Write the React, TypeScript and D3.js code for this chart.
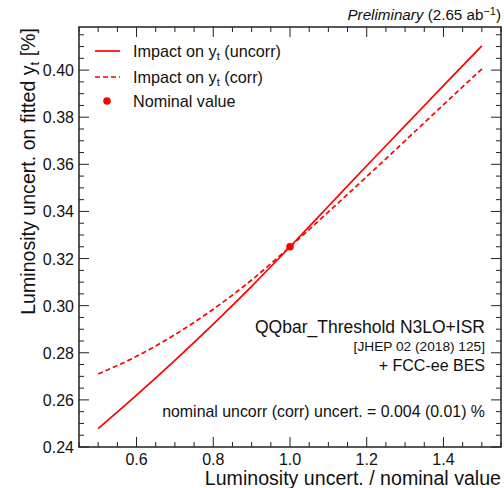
import React from "react";
import * as d3 from "d3";

const xValues = [0.5, 0.6, 0.7, 0.8, 0.9, 1.0, 1.1, 1.2, 1.3, 1.4, 1.5];
const uncorrValues = [0.2478, 0.262, 0.2768, 0.2922, 0.3082, 0.325, 0.3422, 0.3594, 0.3764, 0.3934, 0.4103];
const corrValues = [0.271, 0.2785, 0.2877, 0.2985, 0.3109, 0.325, 0.3398, 0.3548, 0.37, 0.3853, 0.4005];
const nominalPoint = { x: 1.0, y: 0.325 };
const xTicks = [0.6, 0.8, 1.0, 1.2, 1.4];
const yTicks = [0.24, 0.26, 0.28, 0.3, 0.32, 0.34, 0.36, 0.38, 0.4];

const W = 504;
const H = 488;
const L = 79, R = 501, T = 27, B = 447;
const RED = "#ff0000";
const FONT = "'Liberation Sans', Arial, Helvetica, sans-serif";

export default function App() {
  const x = d3.scaleLinear().domain([0.45, 1.55]).range([L, R]);
  const y = d3.scaleLinear().domain([0.24, 0.4183]).range([B, T]);
  const line = d3
    .line<number>()
    .x((_, i) => x(xValues[i]))
    .y((d) => y(d))
    .curve(d3.curveMonotoneX);

  const xMinor = d3.range(0.45, 1.5501, 0.05).map((v) => +v.toFixed(3));
  const yMinor = d3.range(0.24, 0.4183, 0.005).map((v) => +v.toFixed(4));

  const isMajorX = (v: number) => Math.abs(Math.round(v * 5) - v * 5) < 1e-6;
  const isMajorY = (v: number) => Math.abs(Math.round(v * 50) - v * 50) < 1e-6;

  return (
    <svg width={W} height={H} style={{ position: "absolute", left: 0, top: 0, background: "#fff" }} fontFamily={FONT}>
      <rect x={0} y={0} width={W} height={H} fill="#fff" />
      {/* ticks */}
      <g stroke="#222" strokeWidth={1}>
        {xMinor.map((v, i) => {
          const len = isMajorX(v) ? 10 : 5;
          const px = x(v);
          return (
            <g key={"xt" + i}>
              <line x1={px} x2={px} y1={B} y2={B - len} />
              <line x1={px} x2={px} y1={T} y2={T + len} />
            </g>
          );
        })}
        {yMinor.map((v, i) => {
          const len = isMajorY(v) ? 10 : 5;
          const py = y(v);
          return (
            <g key={"yt" + i}>
              <line x1={L} x2={L + len} y1={py} y2={py} />
              <line x1={R} x2={R - len} y1={py} y2={py} />
            </g>
          );
        })}
      </g>
      {/* frame */}
      <rect x={L} y={T} width={R - L} height={B - T} fill="none" stroke="#222" strokeWidth={1.5} />
      {/* tick labels */}
      <g fontSize={16} fill="#111">
        {xTicks.map((t) => (
          <text key={"xl" + t} x={x(t)} y={464.5} textAnchor="middle">
            {t.toFixed(1)}
          </text>
        ))}
        {yTicks.map((t) => (
          <text key={"yl" + t} x={74} y={y(t) + 6} textAnchor="end">
            {t.toFixed(2)}
          </text>
        ))}
      </g>
      {/* axis titles */}
      <text x={501} y={485} textAnchor="end" fontSize={19.6} fill="#111">
        Luminosity uncert. / nominal value
      </text>
      <text transform={`translate(35,${T + 1}) rotate(-90)`} textAnchor="end" fontSize={19.6} fill="#111">
        Luminosity uncert. on fitted y<tspan fontSize={13} dy={4}>t</tspan>
        <tspan dy={-4}> [%]</tspan>
      </text>
      {/* top label */}
      <text x={501} y={20} textAnchor="end" fontSize={15.2} fill="#111">
        <tspan fontStyle="italic">Preliminary</tspan> (2.65 ab
        <tspan fontSize={11} dy={-5}>−1</tspan>
        <tspan dy={5}>)</tspan>
      </text>
      {/* data */}
      <path d={line(corrValues) || ""} fill="none" stroke={RED} strokeWidth={1.7} strokeDasharray="5,3" />
      <path d={line(uncorrValues) || ""} fill="none" stroke={RED} strokeWidth={1.7} />
      <circle cx={x(nominalPoint.x)} cy={y(nominalPoint.y)} r={3.8} fill={RED} />
      {/* legend */}
      <g fontSize={16.2} fill="#111">
        <line x1={95} x2={120} y1={51} y2={51} stroke={RED} strokeWidth={1.7} />
        <text x={133} y={57}>
          Impact on y<tspan fontSize={11} dy={3}>t</tspan>
          <tspan dy={-3}> (uncorr)</tspan>
        </text>
        <line x1={95} x2={120} y1={77} y2={77} stroke={RED} strokeWidth={1.7} strokeDasharray="5,3" />
        <text x={133} y={83}>
          Impact on y<tspan fontSize={11} dy={3}>t</tspan>
          <tspan dy={-3}> (corr)</tspan>
        </text>
        <circle cx={107} cy={101} r={3.8} fill={RED} />
        <text x={133} y={106.5}>Nominal value</text>
      </g>
      {/* annotations */}
      <g fill="#111" textAnchor="end">
        <text x={485} y={333} fontSize={17.5}>QQbar_Threshold N3LO+ISR</text>
        <text x={485} y={351} fontSize={13.7}>[JHEP 02 (2018) 125]</text>
        <text x={485} y={371} fontSize={16}>+ FCC-ee BES</text>
        <text x={485} y={417} fontSize={15.9}>nominal uncorr (corr) uncert. = 0.004 (0.01) %</text>
      </g>
    </svg>
  );
}
